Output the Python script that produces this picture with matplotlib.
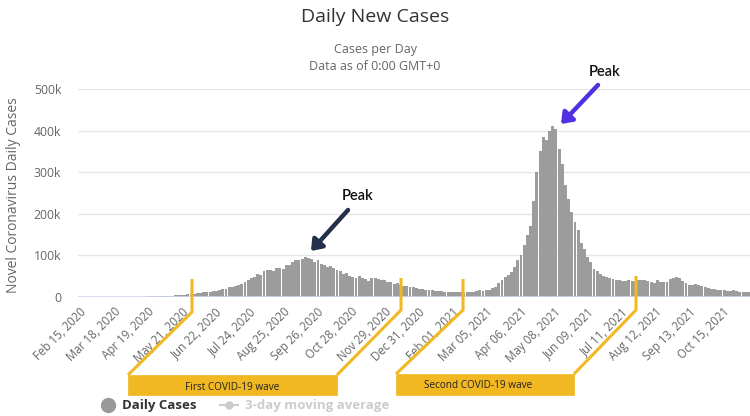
import numpy as np
import matplotlib
matplotlib.use("Agg")
import matplotlib.pyplot as plt
from matplotlib.patches import Rectangle, FancyArrowPatch
from matplotlib.lines import Line2D

# ---------------- data ----------------
start_date = "2020-02-15"
step_days = 3
# Daily new cases (thousands), sampled every 3 days from Feb 15, 2020
cases_k = [
    0, 0, 0, 0, 0, 0, 0, 0, 0, 0.02, 0.05, 0.08, 0.1, 0.15, 0.2,
    0.4, 0.6, 0.7, 0.9, 1.0, 1.1, 1.0, 1.3, 1.5, 1.6, 1.8, 2.4, 3.0, 3.6, 3.5,
    3.7, 4.0, 5.0, 5.6, 6.5, 7.0, 8.2, 9.9, 9.9, 11.0, 11.5, 13.0, 14.5, 15.5, 17.0,
    18.5, 20, 23, 25, 27, 29, 32, 35, 40, 45, 49, 55, 53, 62, 64,
    65, 63, 69, 70, 67, 77, 78, 83, 90, 89, 92, 97, 94, 92, 85,
    89, 80, 78, 72, 75, 70, 66, 62, 55, 58, 50, 47, 46, 50, 45,
    44, 38, 46, 45, 44, 42, 40, 37, 36, 32, 33, 30, 27, 26, 24,
    23, 22, 20, 19, 18, 17, 16, 15, 14, 15, 13, 13, 11, 12, 11,
    11, 10, 11, 12, 13, 14, 16, 15, 17, 18, 22, 24, 33, 40, 47,
    53, 60, 72, 90, 100, 125, 150, 170, 230, 300, 350, 385, 378, 400, 410,
    403, 355, 320, 270, 235, 205, 180, 160, 130, 115, 95, 85, 68, 62, 55,
    50, 48, 46, 44, 42, 40, 39, 38, 41, 39, 36, 40, 42, 40, 38,
    36, 33, 40, 36, 35, 37, 44, 46, 47, 45, 38, 34, 28, 30, 32,
    29, 26, 24, 22, 20, 19, 17, 18, 16, 15, 14, 16, 14, 13, 12,
    11, 11,
]
tick_labels = [
    "Feb 15, 2020", "Mar 18, 2020", "Apr 19, 2020", "May 21, 2020",
    "Jun 22, 2020", "Jul 24, 2020", "Aug 25, 2020", "Sep 26, 2020",
    "Oct 28, 2020", "Nov 29, 2020", "Dec 31, 2020", "Feb 01, 2021",
    "Mar 05, 2021", "Apr 06, 2021", "May 08, 2021", "Jun 09, 2021",
    "Jul 11, 2021", "Aug 12, 2021", "Sep 13, 2021", "Oct 15, 2021",
]
tick_step_days = 32
y_ticks = [0, 100000, 200000, 300000, 400000, 500000]
y_tick_labels = ["0", "100k", "200k", "300k", "400k", "500k"]

# ---------------- figure ----------------
W, H = 750, 416
plt.rcParams["font.family"] = ["Open Sans", "DejaVu Sans"]
fig = plt.figure(figsize=(W / 100, H / 100), dpi=100)
fig.patch.set_facecolor("white")


def px(x, y):
    return (x / W, 1 - y / H)


ax = fig.add_axes([78 / W, (H - 297) / H, (W - 78) / W, (297 - 89) / H])
days = np.arange(len(cases_k)) * step_days
vals = np.array(cases_k) * 1000
ax.bar(days, vals, width=2.75, color="#9c9c9c", linewidth=0, zorder=2)

ax.set_xlim(-1.9, 633.5)
ax.set_ylim(0, 500000)
ax.set_yticks(y_ticks)
ax.set_yticklabels(y_tick_labels)
for yv in y_ticks[1:]:
    ax.axhline(yv, color="#e6e6e6", lw=1, zorder=1)
ax.axhline(0, color="#ccd6eb", lw=1.2, zorder=3)
ax.set_xticks(np.arange(len(tick_labels)) * tick_step_days)
ax.set_xticklabels(tick_labels, rotation=45, ha="right", va="top",
                   rotation_mode="anchor")
ax.tick_params(axis="x", length=0, pad=6, labelsize=8.3, labelcolor="#666666")
ax.tick_params(axis="y", length=0, pad=12, labelsize=8.8, labelcolor="#666666")
for s in ax.spines.values():
    s.set_visible(False)
ax.set_facecolor("none")

fig.text(*px(14, 195), "Novel Coronavirus Daily Cases", rotation=90,
         ha="center", va="center", fontsize=10, color="#666666")

# titles
fig.text(*px(375, 17), "Daily New Cases", ha="center", va="center",
         fontsize=14, color="#333333")
fig.text(*px(375, 49), "Cases per Day", ha="center", va="center",
         fontsize=9, color="#666666")
fig.text(*px(375, 66), "Data as of 0:00 GMT+0", ha="center", va="center",
         fontsize=9, color="#666666")

# legend
fig.add_artist(Line2D([108 / W], [1 - 405 / H], marker="o", markersize=10,
                      color="#999999", linestyle="none"))
fig.text(*px(122, 405), "Daily Cases", ha="left", va="center",
         fontsize=9.5, fontweight="bold", color="#333333")
fig.add_artist(Line2D([220 / W, 238 / W], [1 - 405 / H, 1 - 405 / H],
                      color="#cccccc", lw=1.5))
fig.add_artist(Line2D([229 / W], [1 - 405 / H], marker="o", markersize=5,
                      color="#cccccc", linestyle="none"))
fig.text(*px(245, 405), "3-day moving average", ha="left", va="center",
         fontsize=9.5, fontweight="bold", color="#cccccc")

# yellow brackets
yel = "#f2b822"


def poly(points):
    xs = [p[0] / W for p in points]
    ys = [1 - p[1] / H for p in points]
    fig.add_artist(Line2D(xs, ys, color=yel, lw=2.2, solid_capstyle="butt",
                          solid_joinstyle="miter", zorder=5))


poly([(192, 279), (192, 312), (128, 375)])
poly([(401, 278), (401, 310), (337, 375)])
poly([(463, 279), (463, 310), (396, 374)])
poly([(636, 276), (636, 310), (574, 374)])

for (x0, y0, x1, y1) in [(128, 375, 337, 395), (396, 374, 574, 395)]:
    fig.add_artist(Rectangle((x0 / W, 1 - y1 / H), (x1 - x0) / W,
                             (y1 - y0) / H, facecolor=yel, edgecolor=yel,
                             lw=0.5, zorder=5))
fig.text(*px(232, 388), "First COVID-19 wave", ha="center", va="center",
         fontsize=7.2, color="#222222", zorder=6)
fig.text(*px(478, 386), "Second COVID-19 wave", ha="center", va="center",
         fontsize=7.2, color="#222222", zorder=6)

# peak annotations
fig.text(*px(358, 196), "Peak", ha="center", va="center", fontsize=10.5,
         color="#111111", family=["Lato", "DejaVu Sans"], fontweight="semibold")
fig.text(*px(605, 72), "Peak", ha="center", va="center", fontsize=10.5,
         color="#111111", family=["Lato", "DejaVu Sans"], fontweight="semibold")
for (x0, y0, x1, y1, c) in [(348, 210, 311, 251, "#232f4b"),
                            (598, 85, 561, 124, "#5030e0")]:
    fig.add_artist(FancyArrowPatch(px(x0, y0), px(x1, y1),
                                   transform=fig.transFigure,
                                   arrowstyle="-|>,head_length=6,head_width=4.5",
                                   color=c, lw=3.2, zorder=6,
                                   shrinkA=0, shrinkB=0))

fig.savefig("out.png", dpi=100)
